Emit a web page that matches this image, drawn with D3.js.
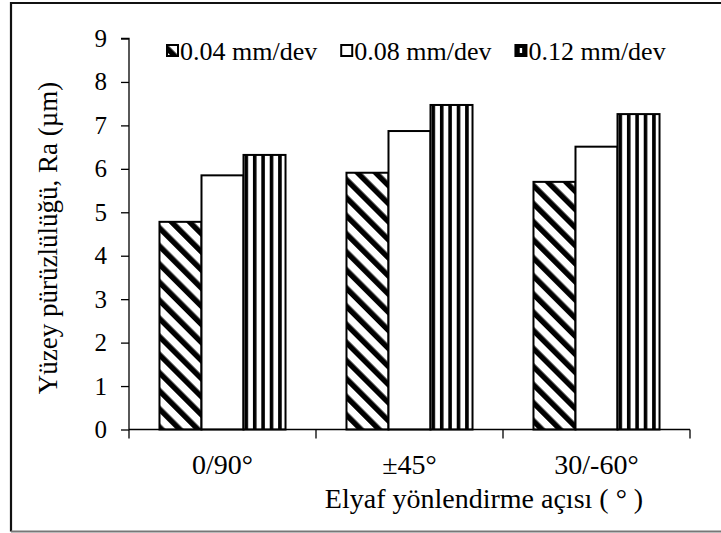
<!DOCTYPE html>
<html>
<head>
<meta charset="utf-8">
<script src="https://cdn.jsdelivr.net/npm/d3@7"></script>
<style>
  body { margin: 0; background: #fff; }
  svg { display: block; }
</style>
</head>
<body>
<svg id="chart" width="721" height="533"></svg>
<script>
// Surface roughness Ra by fibre orientation angle, for three feed rates
const categories = ["0/90°", "±45°", "30/-60°"];
const feeds = ["0.04 mm/dev", "0.08 mm/dev", "0.12 mm/dev"];
const ra004 = [4.78, 5.91, 5.70];
const ra008 = [5.85, 6.87, 6.51];
const ra012 = [6.32, 7.47, 7.26];
const yTicks = [0, 1, 2, 3, 4, 5, 6, 7, 8, 9];
const yTitle = "Yüzey pürüzlülüğü, Ra (µm)";
const xTitle = "Elyaf yönlendirme açısı ( ° )";

const seriesValues = [ra004, ra008, ra012];
const fills = ["hatch", "plain", "stripes"];
const SERIF = '"Times New Roman", "Liberation Serif", Tinos, "Nimbus Roman", "Noto Serif", "DejaVu Serif", serif';

const svg = d3.select("#chart");
const W = 721, H = 533;
const plot = { left: 129, right: 690, top: 38.5, bottom: 429.5 };

svg.append("rect").attr("width", W).attr("height", H).attr("fill", "#fff");

// outer frame (right edge falls outside the canvas)
svg.append("path")
  .attr("d", `M11,${H - 1.5} L11,3 L${W + 5},3`)
  .attr("fill", "none").attr("stroke", "#111").attr("stroke-width", 2.2);
svg.append("line")
  .attr("x1", 11).attr("x2", W).attr("y1", H - 1.5).attr("y2", H - 1.5)
  .attr("stroke", "#777").attr("stroke-width", 2);

const x0 = d3.scaleBand().domain(categories)
  .range([plot.left, plot.right]).paddingInner(0.326).paddingOuter(0.163);
const x1 = d3.scaleBand().domain(feeds).range([0, x0.bandwidth()]);
const y = d3.scaleLinear().domain([0, 9]).range([plot.bottom, plot.top]);

const defs = svg.append("defs");
// diagonal hatch for the lowest feed
const hatch = defs.append("pattern").attr("id", "hatch")
  .attr("patternUnits", "userSpaceOnUse")
  .attr("width", 12.8).attr("height", 12.8)
  .attr("patternTransform", "rotate(-45)");
hatch.append("rect").attr("width", 12.8).attr("height", 12.8).attr("fill", "#fff");
hatch.append("rect").attr("width", 5.5).attr("height", 12.8).attr("fill", "#000");

// vertical stripes for the highest feed, one pattern per bar so stripes start at its edge
function stripePattern(id, x0pos, period, black) {
  const p = defs.append("pattern").attr("id", id)
    .attr("patternUnits", "userSpaceOnUse")
    .attr("x", x0pos).attr("y", 0)
    .attr("width", period).attr("height", 10);
  p.append("rect").attr("width", period).attr("height", 10).attr("fill", "#fff");
  p.append("rect").attr("width", black).attr("height", 10).attr("fill", "#000");
}

const bars = [];
categories.forEach((c, ci) => {
  feeds.forEach((f, si) => {
    bars.push({ cat: c, feed: f, si, ci, value: seriesValues[si][ci] });
  });
});

bars.forEach(d => {
  if (fills[d.si] === "stripes") {
    stripePattern(`stripes-${d.ci}`, x0(d.cat) + x1(d.feed) + 1, x1.bandwidth() / 5, 3.6);
  }
});

function fillFor(d) {
  const k = fills[d.si];
  if (k === "hatch") return "url(#hatch)";
  if (k === "stripes") return `url(#stripes-${d.ci})`;
  return "#fff";
}

svg.append("g").selectAll("rect").data(bars).join("rect")
  .attr("x", d => x0(d.cat) + x1(d.feed))
  .attr("y", d => y(d.value))
  .attr("width", x1.bandwidth())
  .attr("height", d => y(0) - y(d.value))
  .attr("fill", fillFor)
  .attr("stroke", "#000").attr("stroke-width", 2);

// y axis
const yAxis = d3.axisLeft(y).tickValues(yTicks).tickSize(8).tickPadding(14)
  .tickFormat(d3.format("d"));
const gy = svg.append("g").attr("transform", `translate(${plot.left},0)`).call(yAxis);
gy.select(".domain").attr("stroke", "#000").attr("stroke-width", 1.3)
  .attr("d", `M-8,${plot.top}H0V${plot.bottom}`);
gy.selectAll(".tick line").attr("stroke", "#000").attr("stroke-width", 1.3);
gy.selectAll(".tick text").attr("fill", "#000")
  .style("font-family", SERIF).style("font-size", "25px");

// x axis: ticks at category boundaries
const gx = svg.append("g").attr("transform", `translate(0,${plot.bottom})`);
gx.append("line").attr("x1", plot.left).attr("x2", plot.right)
  .attr("stroke", "#000").attr("stroke-width", 1.3);
const bounds = categories.map(c => x0(c) - x0.step() * x0.paddingInner() / 2)
  .concat([plot.right]);
gx.selectAll("line.tk").data(bounds).join("line").attr("class", "tk")
  .attr("x1", d => d).attr("x2", d => d).attr("y1", 0).attr("y2", 9)
  .attr("stroke", "#000").attr("stroke-width", 1.3);
gx.selectAll("text").data(categories).join("text")
  .attr("x", d => x0(d) + x0.bandwidth() / 2)
  .attr("y", 44)
  .attr("text-anchor", "middle").attr("fill", "#000")
  .style("font-family", SERIF).style("font-size", "28px")
  .text(d => d);

// axis titles
svg.append("text")
  .attr("x", 484).attr("y", 508)
  .attr("text-anchor", "middle").attr("fill", "#000")
  .style("font-family", SERIF).style("font-size", "28px")
  .text(xTitle);
svg.append("text")
  .attr("transform", `translate(57,${(plot.top + plot.bottom) / 2 + 4}) rotate(-90)`)
  .attr("text-anchor", "middle").attr("fill", "#000")
  .style("font-family", SERIF).style("font-size", "27px")
  .text(yTitle);

// legend
const lg = svg.append("g").attr("transform", "translate(167,52)");
let lx = 0;
feeds.forEach((f, si) => {
  const item = lg.append("g").attr("transform", `translate(${lx},0)`);
  const k = fills[si];
  item.append("rect").attr("x", 0).attr("y", -7).attr("width", 11).attr("height", 11)
    .attr("fill", k === "hatch" ? "url(#hatch)" : k === "stripes" ? "#000" : "#fff")
    .attr("stroke", "#000").attr("stroke-width", 2);
  if (k === "stripes") {
    item.append("rect").attr("x", 4.3).attr("y", -4).attr("width", 2.4).attr("height", 5)
      .attr("fill", "#fff");
  }
  const t = item.append("text").attr("x", 13).attr("y", 8).attr("fill", "#000")
    .style("font-family", SERIF).style("font-size", "26px").text(f);
  lx += 13 + t.node().getComputedTextLength() + 24;
});
</script>
</body>
</html>
